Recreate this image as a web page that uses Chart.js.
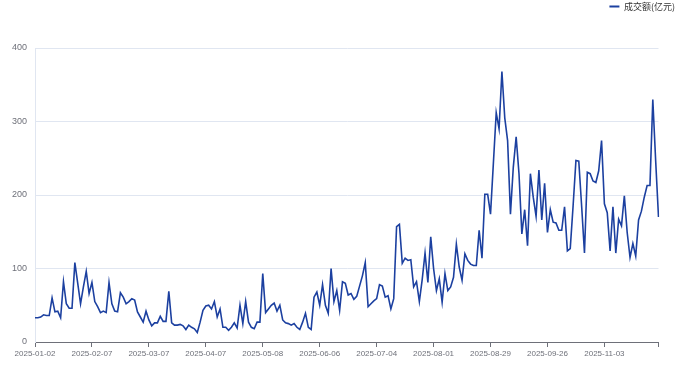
<!DOCTYPE html>
<html>
<head>
<meta charset="utf-8">
<script src="https://cdn.jsdelivr.net/npm/chart.js@4.4.1/dist/chart.umd.min.js"></script>
<style>
  body { margin: 0; background: #fff; }
</style>
</head>
<body>
<canvas id="grafico" width="691" height="370"></canvas>
<script>
// 成交额(亿元), um valor por pregão
const valores = [
  33, 33, 34, 37, 36, 36, 60, 41, 42, 33,
  82, 52, 46, 46, 108, 80, 52, 75, 96, 66,
  81, 55, 48, 40, 42, 40, 81, 52, 42, 41,
  67, 61, 52, 55, 59, 57, 41, 34, 27, 42,
  30, 22, 26, 26, 35, 28, 28, 69, 26, 23,
  23, 24, 22, 17, 23, 20, 18, 13, 27, 43,
  49, 50, 45, 55, 34, 45, 20, 20, 16, 20,
  26, 19, 50, 25, 55, 27, 20, 18, 27, 27,
  93, 40, 45, 50, 53, 42, 50, 30, 26, 25,
  23, 25, 20, 17, 27, 39, 20, 17, 61, 68,
  50, 78, 50, 39, 100, 55, 70, 43, 82, 80,
  64, 66, 58, 62, 76, 90, 108, 48, 52, 56,
  59, 78, 76, 61, 63, 45, 59, 157, 160, 107,
  114, 111, 112, 75, 82, 55, 85, 121, 81, 143,
  100, 70, 86, 54, 93, 70, 75, 88, 133, 102,
  84, 120, 111, 106, 104, 104, 152, 114, 201, 201,
  174, 243, 312, 290, 368, 305, 274, 174, 238, 279,
  229, 147, 180, 131, 229, 197, 171, 234, 166, 216,
  149, 180, 163, 162, 152, 152, 184, 124, 127, 185,
  247, 246, 185, 121, 231, 229, 219, 217, 233, 274,
  188, 176, 124, 184, 121, 167, 158, 199, 149, 115,
  134, 117, 166, 178, 197, 213, 213, 330, 247, 170
];

// feriados da bolsa em 2025 (dias úteis sem pregão)
const feriados = [
  '2025-01-01', '2025-01-28', '2025-01-29', '2025-01-30', '2025-01-31',
  '2025-02-03', '2025-02-04', '2025-04-04', '2025-05-01', '2025-05-02',
  '2025-05-05', '2025-06-02', '2025-10-01', '2025-10-02', '2025-10-03',
  '2025-10-06', '2025-10-07', '2025-10-08'
];

const nomeSerie = '成交额(亿元)';
const intervaloRotulo = 20;
const eixoY = [0, 100, 200, 300, 400];

// montando as datas dos pregões a partir de 2025-01-02
let datas = [];
let dia = new Date(Date.UTC(2025, 0, 2));
while (datas.length < valores.length) {
  let texto = dia.toISOString().slice(0, 10);
  let semana = dia.getUTCDay();
  if (semana !== 0 && semana !== 6 && feriados.indexOf(texto) < 0) {
    datas.push(texto);
  }
  dia.setUTCDate(dia.getUTCDate() + 1);
}

const corLinha = '#1c40a0';
const corTexto = '#6e7079';
const corGrade = '#e0e6f1';

// espaço extra embaixo da legenda
const espacoLegenda = {
  id: 'espacoLegenda',
  beforeInit: function (chart) {
    const fitOriginal = chart.legend.fit;
    chart.legend.fit = function () {
      fitOriginal.bind(chart.legend)();
      this.height += 27;
    };
  }
};

const config = {
  type: 'line',
  data: {
    labels: datas,
    datasets: [{
      label: nomeSerie,
      data: valores,
      borderColor: corLinha,
      backgroundColor: corLinha,
      borderWidth: 1.6,
      pointRadius: 0,
      tension: 0
    }]
  },
  options: {
    responsive: false,
    animation: false,
    layout: { padding: { left: 0, right: 14, top: 0, bottom: 0 } },
    plugins: {
      legend: {
        position: 'top',
        align: 'end',
        labels: {
          color: '#333',
          font: { size: 9, family: '"Noto Sans CJK SC", sans-serif' },
          boxWidth: 10,
          boxHeight: 2,
          padding: 2,
          generateLabels: function (chart) {
            return Chart.defaults.plugins.legend.labels.generateLabels(chart).map(function (l) {
              l.lineWidth = 0;
              return l;
            });
          }
        }
      },
      tooltip: { enabled: false }
    },
    scales: {
      x: {
        offset: false,
        border: { display: true, color: corTexto, width: 1 },
        grid: { drawOnChartArea: false, drawTicks: true, tickLength: 5, color: corTexto },
        ticks: {
          autoSkip: false,
          maxRotation: 0,
          padding: 2,
          color: corTexto,
          font: { size: 8, family: '"Liberation Sans", sans-serif' },
          callback: function (v, i) {
            if (i % intervaloRotulo === 0) return datas[i];
            if (i === datas.length - 1) return '';
            return null;
          }
        },
        afterFit: function (s) { s.height = 28; }
      },
      y: {
        min: eixoY[0],
        max: eixoY[eixoY.length - 1],
        border: { display: true, color: corGrade },
        grid: { color: corGrade, drawTicks: false },
        ticks: {
          stepSize: 100,
          padding: 8,
          color: corTexto,
          font: { size: 9, family: '"Liberation Sans", sans-serif' }
        },
        afterFit: function (s) { s.width = 35; }
      },
      direita: {
        position: 'right',
        display: true,
        grid: { display: false },
        border: { display: false },
        ticks: { display: false },
        afterFit: function (s) { s.width = 18.5; }
      }
    }
  },
  plugins: [espacoLegenda]
};

let grafico = new Chart(document.getElementById('grafico'), config);
</script>
</body>
</html>
